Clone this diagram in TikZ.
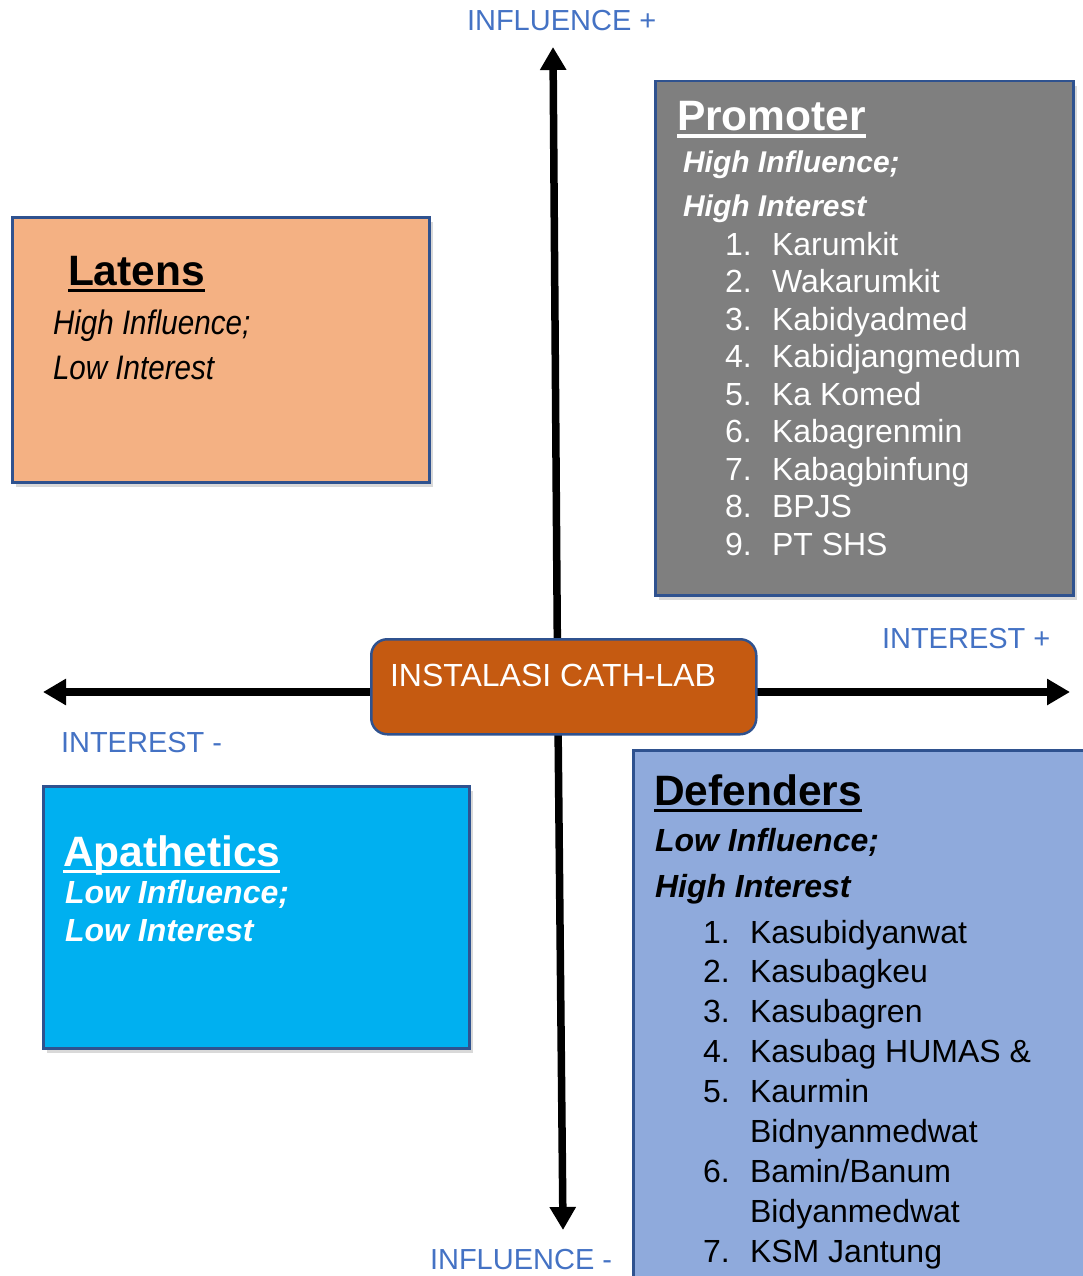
\documentclass[tikz,border=0pt]{standalone}
\usepackage{fontspec}
\setmainfont{Liberation Sans}
\newfontfamily\narrowsans[FakeStretch=0.87]{Liberation Sans}
\usetikzlibrary{arrows.meta,shadows}

\definecolor{axisblue}{HTML}{4472C4}
\definecolor{edgeblue}{HTML}{2F528F}
\definecolor{promgray}{HTML}{7F7F7F}
\definecolor{latpeach}{HTML}{F4B183}
\definecolor{apacyan}{HTML}{00B0F0}
\definecolor{defblue}{HTML}{8FAADC}
\definecolor{labrust}{HTML}{C55A11}

% heavy underline for the quadrant titles
\newcommand\thickul[1]{\setbox0=\hbox{#1}\rlap{\rule[-7pt]{\wd0}{3.5pt}}\box0}

\begin{document}
\begin{tikzpicture}[x=1pt,y=-1pt,
  quad/.style={draw=edgeblue, line width=2.5pt, anchor=north west, inner sep=0pt,
    drop shadow={shadow xshift=4pt, shadow yshift=-5pt, opacity=0.3}},
  txt/.style={anchor=base west, inner sep=0pt, outer sep=0pt},
  qtitle/.style={txt, font=\fontsize{42.5}{42.5}\selectfont\bfseries},
  plainit/.style={txt, font=\narrowsans\fontsize{34}{34}\selectfont\itshape},
  boldit/.style={txt, font=\fontsize{32}{32}\selectfont\bfseries\itshape},
  promit/.style={txt, font=\fontsize{30}{30}\selectfont\bfseries\itshape},
  promitem/.style={txt, text=white, font=\fontsize{32}{32}\selectfont},
  defitem/.style={txt, font=\fontsize{32}{32}\selectfont},
  axis/.style={line width=7.5pt, -{Triangle[length=23pt,width=25pt]}},
  axlabel/.style={txt, text=axisblue, font=\fontsize{29}{29}\selectfont}
]
\useasboundingbox (0,0) rectangle (1083,1276);
\clip (0,0) rectangle (1083,1276);

% quadrant boxes
\node[quad, fill=latpeach, minimum width=417pt, minimum height=265pt] (latens) at (11,216) {};
\node[quad, fill=promgray, minimum width=418pt, minimum height=514pt] (promoter) at (654,80) {};
\node[quad, fill=apacyan, minimum width=426pt, minimum height=262pt] (apathetics) at (42,785) {};
\node[quad, fill=defblue, minimum width=480pt, minimum height=560pt] (defenders) at (632,749) {};

% axes
\coordinate (cross) at (557.7,692);
\coordinate (ytop) at (553,47);
\coordinate (ybot) at (563,1230);
\coordinate (xleft) at (43,692);
\coordinate (xright) at (1070,692);
\draw[axis] (cross) -- (ytop);
\draw[axis] (cross) -- (ybot);
\draw[axis] (cross) -- (xleft);
\draw[axis] (cross) -- (xright);

% centre box
\node[draw=edgeblue, line width=2.5pt, fill=labrust, rounded corners=16pt,
  minimum width=385pt, minimum height=95pt, anchor=north west, inner sep=0pt] (lab) at (370,638) {};
\node[txt, text=white, font=\fontsize{32}{32}\selectfont] (labtext) at (390,686) {INSTALASI CATH-LAB};

% axis labels
\node[axlabel] (infhigh) at (467,31) {INFLUENCE +};
\node[axlabel] (inthigh) at (882,648) {INTEREST +};
\node[axlabel] (intlow) at (61,752) {INTEREST -};
\node[axlabel] (inflow) at (430,1269) {INFLUENCE -};

% Latens
\node[qtitle] (lattitle) at (68,285) {\thickul{Latens}};
\node[plainit] (latl1) at (53,334) {High Influence;};
\node[plainit] (latl2) at (53,379) {Low Interest};

% Promoter
\node[qtitle, text=white] (promtitle) at (677,131) {\thickul{Promoter}};
\node[promit, text=white] (proml1) at (683,173) {High Influence;};
\node[promit, text=white] (proml2) at (683,216) {High Interest};
\foreach \num/\name [count=\i from 0] in
  {1./Karumkit, 2./Wakarumkit, 3./Kabidyadmed, 4./Kabidjangmedum, 5./Ka Komed,
   6./Kabagrenmin, 7./Kabagbinfung, 8./BPJS, 9./PT SHS} {
  \node[promitem] (pnum\i) at (725,{255+37.5*\i}) {\num};
  \node[promitem] (pname\i) at (772,{255+37.5*\i}) {\name};
}

% Apathetics
\node[qtitle, text=white] (apatitle) at (63,866) {\thickul{Apathetics}};
\node[boldit, text=white] (apal1) at (65,903) {Low Influence;};
\node[boldit, text=white] (apal2) at (65,941) {Low Interest};

% Defenders
\node[qtitle] (deftitle) at (654,805) {\thickul{Defenders}};
\node[boldit] (defl1) at (655,851) {Low Influence;};
\node[boldit] (defl2) at (655,897) {High Interest};
\foreach \num/\name [count=\i from 0] in
  {1./Kasubidyanwat, 2./Kasubagkeu, 3./Kasubagren, 4./{Kasubag HUMAS \&}, 5./Kaurmin,
   {}/Bidnyanmedwat, 6./{Bamin/Banum}, {}/Bidyanmedwat, 7./KSM Jantung} {
  \node[defitem] (dnum\i) at (703,{943+39.9*\i}) {\num};
  \node[defitem] (dname\i) at (750,{943+39.9*\i}) {\name};
}
\end{tikzpicture}
\end{document}
